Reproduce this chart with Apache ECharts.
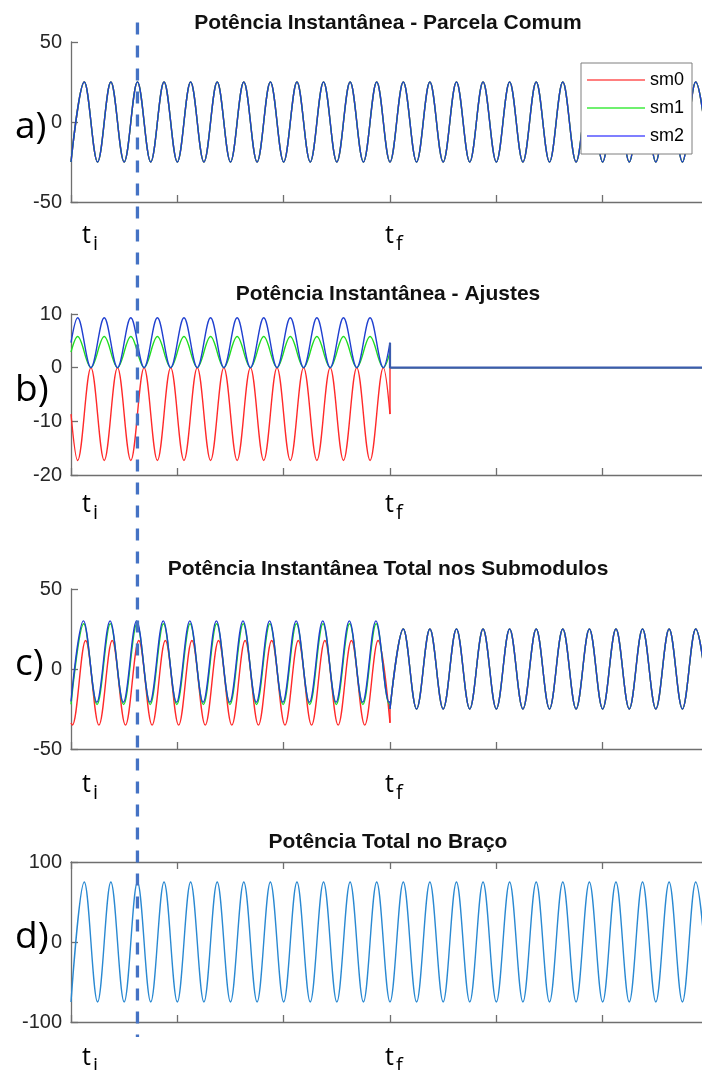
<!DOCTYPE html>
<html>
<head>
<meta charset="utf-8">
<script src="https://cdn.jsdelivr.net/npm/echarts/dist/echarts.min.js"></script>
<style>
  html, body { margin: 0; padding: 0; background: #fff; }
  #main { width: 702px; height: 1070px; }
</style>
</head>
<body>
<div id="main"></div>
<script>
// time is in periods of the fundamental; values are the extremes
const titles = ['Potência Instantânea - Parcela Comum', 'Potência Instantânea - Ajustes',
  'Potência Instantânea Total nos Submodulos', 'Potência Total no Braço'];
const panelTags = ['a)', 'b)', 'c)', 'd)'];
const legendNames = ['sm0', 'sm1', 'sm2'];
const markTime = 2.5;   // dashed vertical marker
const tiTime = 0, tfTime = 12;

// a) and d): peaks/troughs every half period, 0..24
const halfTimes = [0,0.5,1,1.5,2,2.5,3,3.5,4,4.5,5,5.5,6,6.5,7,7.5,8,8.5,9,9.5,10,10.5,11,11.5,
  12,12.5,13,13.5,14,14.5,15,15.5,16,16.5,17,17.5,18,18.5,19,19.5,20,20.5,21,21.5,22,22.5,23,23.5,24];
const aVals = [-25,25,-25,25,-25,25,-25,25,
  -25,25,-25,25,-25,25,-25,25,
  -25,25,-25,25,-25,25,-25,25,
  -25,25,-25,25,-25,25,-25,25,
  -25,25,-25,25,-25,25,-25,25,
  -25,25,-25,25,-25,25,-25,25, -25];
const dVals = [-75,75,-75,75,-75,75,-75,75,
  -75,75,-75,75,-75,75,-75,75,
  -75,75,-75,75,-75,75,-75,75,
  -75,75,-75,75,-75,75,-75,75,
  -75,75,-75,75,-75,75,-75,75,
  -75,75,-75,75,-75,75,-75,75, -75];

// b) adjustments, 0..tf
const bTimes = [0, 0.25,0.75,1.25,1.75,2.25,2.75,3.25,3.75, 4.25,4.75,5.25,5.75,6.25,6.75,7.25,7.75,
  8.25,8.75,9.25,9.75,10.25,10.75,11.25,11.75, 12];
const bSm0 = [-8.65, -17.3,0,-17.3,0,-17.3,0,-17.3,0, -17.3,0,-17.3,0,-17.3,0,-17.3,0,
  -17.3,0,-17.3,0,-17.3,0,-17.3,0, -8.65];
const bSm1 = [2.9, 5.8,0,5.8,0,5.8,0,5.8,0, 5.8,0,5.8,0,5.8,0,5.8,0, 5.8,0,5.8,0,5.8,0,5.8,0, 2.9];
const bSm2 = [4.65, 9.3,0,9.3,0,9.3,0,9.3,0, 9.3,0,9.3,0,9.3,0,9.3,0, 9.3,0,9.3,0,9.3,0,9.3,0, 4.65];
const bFlatTimes = [12, 12, 24];
const bFlatSm0 = [-8.65, 0, 0];
const bFlatSm1 = [2.9, 0, 0];
const bFlatSm2 = [4.65, 0, 0];

// c) totals, 0..tf
const cSm0Times = [0, 0.05,0.55,1.05,1.55,2.05,2.55,3.05,3.55, 4.05,4.55,5.05,5.55,6.05,6.55,7.05,7.55,
  8.05,8.55,9.05,9.55,10.05,10.55,11.05,11.55, 12];
const cSm0 = [-33.65, -35.1,17.8,-35.1,17.8,-35.1,17.8,-35.1,17.8, -35.1,17.8,-35.1,17.8,-35.1,17.8,-35.1,17.8,
  -35.1,17.8,-35.1,17.8,-35.1,17.8,-35.1,17.8, -33.65];
const cSm1Times = [0, 0.48,0.98,1.48,1.98,2.48,2.98,3.48,3.98, 4.48,4.98,5.48,5.98,6.48,6.98,7.48,7.98,
  8.48,8.98,9.48,9.98,10.48,10.98,11.48,11.98, 12];
const cSm1 = [-22.1, 28.3,-22.2,28.3,-22.2,28.3,-22.2,28.3,-22.2, 28.3,-22.2,28.3,-22.2,28.3,-22.2,28.3,-22.2,
  28.3,-22.2,28.3,-22.2,28.3,-22.2,28.3,-22.2, -22.1];
const cSm2Times = [0, 0.47,0.97,1.47,1.97,2.47,2.97,3.47,3.97, 4.47,4.97,5.47,5.97,6.47,6.97,7.47,7.97,
  8.47,8.97,9.47,9.97,10.47,10.97,11.47,11.97, 12];
const cSm2 = [-20.3, 30.1,-20.8,30.1,-20.8,30.1,-20.8,30.1,-20.8, 30.1,-20.8,30.1,-20.8,30.1,-20.8,30.1,-20.8,
  30.1,-20.8,30.1,-20.8,30.1,-20.8,30.1,-20.8, -20.3];
const cJumpTimes = [12, 12];
const cJumpSm0 = [-33.65, -25];
const cJumpSm1 = [-22.1, -25];
const cJumpSm2 = [-20.3, -25];
const cPostTimes = [12,12.5,13,13.5,14,14.5,15,15.5,16,16.5,17,17.5,18,18.5,19,19.5,20,20.5,21,21.5,22,22.5,23,23.5,24];
const cPostVals = [-25,25,-25,25,-25,25,-25,25, -25,25,-25,25,-25,25,-25,25, -25,25,-25,25,-25,25,-25,25, -25];

// y scales per panel
const yMin = [-50, -20, -50, -100];
const yMax = [50, 10, 50, 100];
const yStep = [50, 10, 50, 100];

const FONT = '"Liberation Sans", Arial, sans-serif';
const GRAY = '#6f6f6f';
const RED = '#ff2a2a', GREEN = '#20dd20', BLUE = '#2040d0', ARM = '#2a89d2';
const FLAT = '#3a5cae';   // overlapped red/green/blue after tf
const SM = 0.36;

const gridTops = [42, 314, 589, 862];
const gridH = [160, 161, 160, 160];

function xAx(gi, pos) {
  return {
    type: 'value', gridIndex: gi, position: pos || 'bottom', min: 0, max: 24, interval: 4,
    axisLine: { show: true, onZero: false, lineStyle: { color: GRAY, width: 1.3 } },
    axisTick: { show: true, inside: true, length: 7, lineStyle: { color: GRAY, width: 1.3 } },
    axisLabel: { show: false }, splitLine: { show: false }
  };
}
function yAx(gi) {
  return {
    type: 'value', gridIndex: gi, min: yMin[gi], max: yMax[gi], interval: yStep[gi],
    axisLine: { show: true, onZero: false, lineStyle: { color: GRAY, width: 1.3 } },
    axisTick: { show: true, inside: true, length: 7, lineStyle: { color: GRAY, width: 1.3 } },
    axisLabel: { fontSize: 20, color: '#262626', fontFamily: FONT, margin: 9 },
    splitLine: { show: false }
  };
}
function wave(gi, name, color, times, vals, smooth, width) {
  return {
    type: 'line', name: name, xAxisIndex: gi, yAxisIndex: gi,
    data: times.map((t, i) => [t, vals[i]]),
    symbol: 'none', smooth: smooth, silent: true,
    lineStyle: { color: color, width: width || 1.4 }, itemStyle: { color: color }
  };
}

const chart = echarts.init(document.getElementById('main'));

const option = {
  animation: false,
  backgroundColor: '#fff',
  grid: gridTops.map((t, i) => ({ left: 71, right: -7, top: t, height: gridH[i], outerBoundsMode: 'none' })),
  xAxis: [xAx(0), xAx(1), xAx(2), xAx(3), xAx(3, 'top')],
  yAxis: [yAx(0), yAx(1), yAx(2), yAx(3)],
  legend: {
    data: [
      { name: 'sm0', itemStyle: { color: '#ff7f7f', borderWidth: 0 } },
      { name: 'sm1', itemStyle: { color: '#6ff06f', borderWidth: 0 } },
      { name: 'sm2', itemStyle: { color: '#7f7fff', borderWidth: 0 } }
    ],
    orient: 'vertical', left: 581, top: 63, icon: 'rect',
    itemWidth: 58, itemHeight: 2, itemGap: 10, padding: [8, 8, 9, 6],
    backgroundColor: '#fff', borderColor: '#7f7f7f', borderWidth: 1, borderRadius: 0,
    selectedMode: false,
    textStyle: { fontSize: 18, color: '#000', fontFamily: FONT }
  },
  series: [
    wave(0, 'sm0', RED, halfTimes, aVals, SM),
    wave(0, 'sm1', GREEN, halfTimes, aVals, SM),
    wave(0, 'sm2', BLUE, halfTimes, aVals, SM),

    wave(1, 'sm0', RED, bTimes, bSm0, SM),
    wave(1, 'sm1', GREEN, bTimes, bSm1, SM),
    wave(1, 'sm2', BLUE, bTimes, bSm2, SM),
    wave(1, 'sm0', RED, bFlatTimes, bFlatSm0, false),
    wave(1, 'sm1', GREEN, bFlatTimes, bFlatSm1, false),
    wave(1, 'sm2', FLAT, bFlatTimes, bFlatSm2, false, 2.2),

    wave(2, 'sm0', RED, cSm0Times, cSm0, SM),
    wave(2, 'sm1', GREEN, cSm1Times, cSm1, SM),
    wave(2, 'sm2', BLUE, cSm2Times, cSm2, SM),
    wave(2, 'sm0', RED, cJumpTimes, cJumpSm0, false),
    wave(2, 'sm1', GREEN, cJumpTimes, cJumpSm1, false),
    wave(2, 'sm2', BLUE, cJumpTimes, cJumpSm2, false),
    wave(2, 'sm0', RED, cPostTimes, cPostVals, SM),
    wave(2, 'sm1', GREEN, cPostTimes, cPostVals, SM),
    wave(2, 'sm2', BLUE, cPostTimes, cPostVals, SM),

    wave(3, 'braço', ARM, halfTimes, dVals, SM)
  ]
};
chart.setOption(option);

// annotations: titles, panel tags, t_i / t_f, dashed marker
const titleMid = [23.5, 294.5, 569, 842.5];
const tagMid = [127, 390, 664, 937];
const tBase = [243, 512, 792, 1065];
const g = [];
titles.forEach((txt, i) => {
  g.push({ type: 'text', x: 388, y: titleMid[i], z: 50, silent: true,
    style: { text: txt, fontSize: 21, fontWeight: 'bold', fontFamily: FONT, fill: '#111',
      align: 'center', verticalAlign: 'middle', textAlign: 'center', textVerticalAlign: 'middle' } });
});
panelTags.forEach((txt, i) => {
  g.push({ type: 'text', x: 15, y: tagMid[i], z: 50, silent: true,
    style: { text: txt, fontSize: 37, fontFamily: '"Open Sans", sans-serif', fill: '#000',
      align: 'left', verticalAlign: 'middle', textAlign: 'left', textVerticalAlign: 'middle' } });
});
const xi = chart.convertToPixel({ xAxisIndex: 0 }, tiTime) + 11;
const xf = chart.convertToPixel({ xAxisIndex: 0 }, tfTime) - 5;
[[xi, 'i'], [xf, 'f']].forEach(([x, sub]) => {
  tBase.forEach((b) => {
    g.push({ type: 'text', x: x, y: b - 7, z: 50, silent: true,
      style: { text: 't', fontSize: 25, fontFamily: '"Open Sans", sans-serif', fill: '#000',
        align: 'left', verticalAlign: 'middle', textAlign: 'left', textVerticalAlign: 'middle' } });
    g.push({ type: 'text', x: x + 11, y: b + 7 - 5.5, z: 50, silent: true,
      style: { text: sub, fontSize: 20, fontFamily: '"Open Sans", sans-serif', fill: '#000',
        align: 'left', verticalAlign: 'middle', textAlign: 'left', textVerticalAlign: 'middle' } });
  });
});
const xm = chart.convertToPixel({ xAxisIndex: 0 }, markTime);
g.push({ type: 'line', z: 100, silent: true,
  shape: { x1: xm, y1: 22.5, x2: xm, y2: 1037 },
  style: { stroke: '#4472C4', lineWidth: 3.3, lineDash: [12, 11] } });
chart.setOption({ graphic: g });
</script>
</body>
</html>
